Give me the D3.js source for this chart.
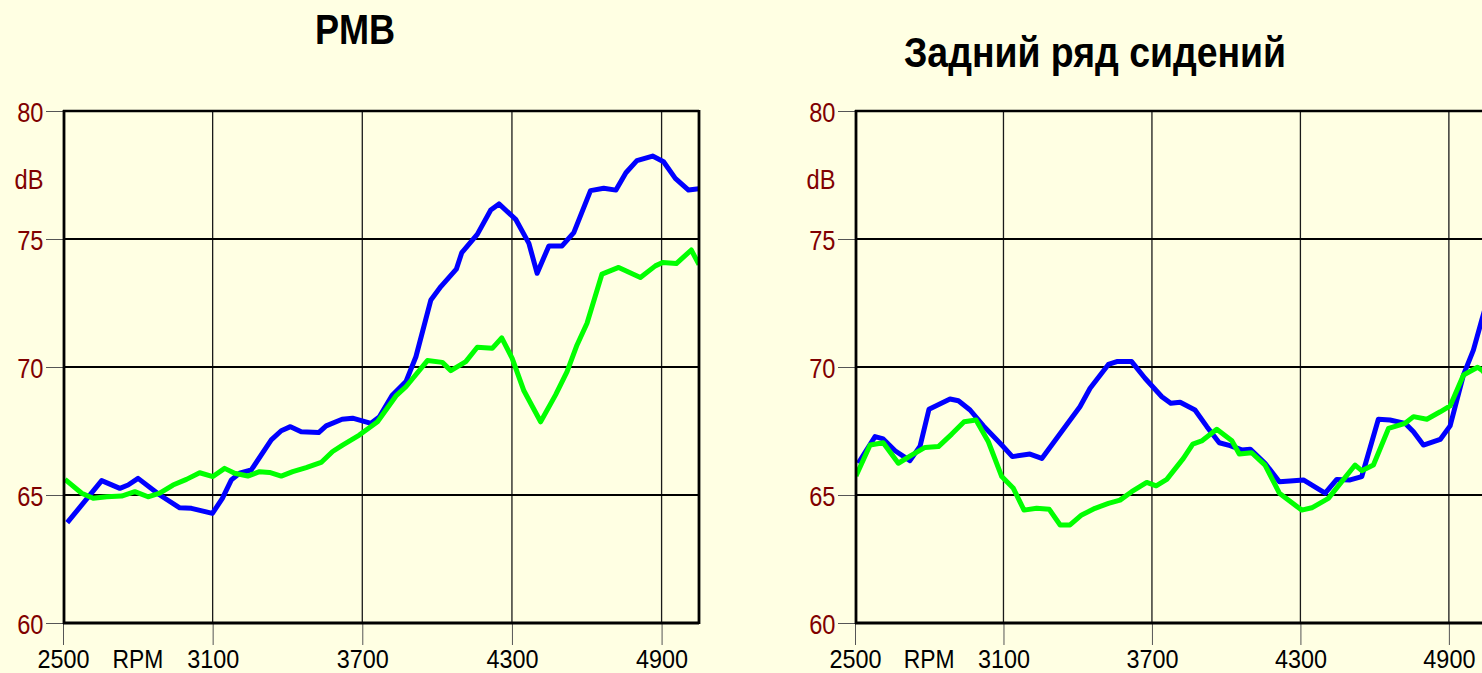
<!DOCTYPE html>
<html>
<head>
<meta charset="utf-8">
<script src="https://cdn.jsdelivr.net/npm/d3@7"></script>
<style>
  html, body { margin: 0; padding: 0; background: #FFFFE3; }
  svg { display: block; }
  text { font-family: "Liberation Sans", Arial, sans-serif; }
</style>
</head>
<body>
<svg id="chart" width="1482" height="673"></svg>
<script>
// ---------------- DATA ----------------
const titles = ["PMB", "Задний ряд сидений"];
const yTicks = [60, 65, 70, 75, 80];
const xTicks = [2500, 3100, 3700, 4300, 4900];
const xUnit = "RPM";
const yUnit = "dB";

// Panel 1: PMB
const pmbBlueRpm = [2517,2655,2728,2761,2801,2888,2968,3015,3099,3139,3175,3208,3255,3335,3375,3412,3455,3525,3555,3619,3661,3735,3768,3821,3875,3915,3975,4015,4077,4099,4161,4215,4248,4315,4368,4401,4448,4501,4548,4615,4668,4717,4757,4801,4864,4908,4955,5008,5050];
const pmbBlueDb  = [63.92,65.56,65.26,65.39,65.65,65.00,64.50,64.48,64.28,64.87,65.59,65.85,65.98,67.15,67.51,67.67,67.47,67.44,67.70,67.96,68.00,67.80,68.05,68.91,69.43,70.40,72.62,73.14,73.82,74.47,75.18,76.13,76.37,75.77,74.83,73.66,74.73,74.73,75.25,76.89,76.98,76.91,77.59,78.06,78.24,78.02,77.37,76.91,76.96];
const pmbGreenRpm = [2508,2575,2621,2675,2735,2788,2841,2888,2941,2995,3048,3101,3148,3188,3241,3288,3328,3375,3421,3475,3535,3581,3621,3688,3761,3835,3875,3961,4021,4055,4115,4161,4221,4259,4301,4348,4415,4475,4521,4561,4601,4661,4728,4815,4875,4904,4959,5019,5050];
const pmbGreenDb  = [65.61,65.07,64.87,64.93,64.96,65.13,64.93,65.07,65.39,65.61,65.87,65.72,66.04,65.85,65.74,65.91,65.88,65.74,65.91,66.07,66.27,66.70,66.95,67.34,67.86,68.87,69.23,70.25,70.18,69.86,70.21,70.77,70.73,71.14,70.34,69.07,67.86,68.91,69.82,70.86,71.71,73.63,73.89,73.50,73.95,74.08,74.04,74.57,74.00];

// Panel 2: rear seats
const rearBlueRpm = [2513,2581,2614,2662,2722,2763,2799,2884,2918,2965,3019,3093,3136,3207,3255,3362,3409,3450,3524,3558,3618,3672,3740,3776,3814,3874,3922,3972,4016,4063,4097,4157,4215,4258,4312,4400,4447,4501,4548,4615,4662,4723,4757,4797,4865,4905,4959,4999,5033,5050];
const rearBlueDb  = [66.24,67.28,67.19,66.73,66.34,66.91,68.35,68.75,68.68,68.32,67.70,66.95,66.50,66.60,66.43,67.83,68.45,69.17,70.10,70.21,70.21,69.56,68.84,68.58,68.62,68.32,67.67,67.04,66.93,66.76,66.79,66.24,65.52,65.55,65.59,65.07,65.61,65.59,65.72,67.96,67.93,67.80,67.47,66.95,67.17,67.70,69.69,70.66,71.84,72.40];
const rearGreenRpm = [2504,2561,2614,2675,2729,2783,2837,2891,2941,2989,3039,3093,3140,3183,3234,3285,3329,3369,3416,3470,3524,3571,3618,3679,3717,3760,3827,3865,3901,3962,4023,4053,4103,4157,4215,4305,4346,4413,4467,4521,4548,4595,4656,4723,4757,4811,4865,4905,4959,5016,5035,5050];
const rearGreenDb  = [65.74,66.95,67.04,66.24,66.56,66.86,66.89,67.38,67.86,67.93,67.08,65.72,65.26,64.41,64.48,64.44,63.83,63.83,64.22,64.48,64.67,64.80,65.13,65.49,65.36,65.61,66.43,66.99,67.11,67.57,67.12,66.60,66.65,66.17,65.07,64.41,64.50,64.87,65.52,66.17,65.95,66.17,67.60,67.80,68.06,67.96,68.25,68.48,69.69,69.99,69.86,69.70];

const seriesColors = ["#0000FF", "#00FF00"];

// ---------------- DRAW ----------------
const svg = d3.select("#chart");
svg.append("rect").attr("width", 1482).attr("height", 673).attr("fill", "#FFFFE3");

function zip(xs, ys) { return xs.map((x, i) => ({ x: x, y: ys[i] })); }

function panel(cfg) {
  const x = d3.scaleLinear().domain([2500, 5050]).range([cfg.x0, cfg.x1]);
  const y = d3.scaleLinear().domain([60, 80]).range([623, 111]);
  const g = svg.append("g");

  // title
  g.append("text")
    .attr("transform", `translate(${cfg.titleX},${cfg.titleY}) scale(${cfg.titleScale},1)`)
    .attr("text-anchor", "middle")
    .attr("font-size", 43).attr("font-weight", "bold").attr("fill", "#000")
    .text(cfg.title);

  const ys = 0.86;
  // y axis (ticks + labels)
  const ya = g.append("g").attr("transform", `translate(${cfg.x0},0)`)
    .call(d3.axisLeft(y).tickValues(yTicks).tickSize(17).tickPadding(2).tickFormat(d3.format("d")));
  ya.select(".domain").remove();
  ya.selectAll(".tick line").attr("stroke", "#555").attr("stroke-width", 1);
  ya.selectAll(".tick text")
    .attr("fill", "#800000").attr("font-size", 27.5)
    .attr("font-family", "'Liberation Sans', Arial, sans-serif")
    .attr("x", -19.5 / ys).attr("dy", "0.38em")
    .attr("transform", `scale(${ys},1)`);

  // dB unit label
  g.append("text")
    .attr("transform", `translate(${cfg.x0 - 19.5},${y(77.35)}) scale(${ys},1)`)
    .attr("text-anchor", "end").attr("dy", "0.36em")
    .attr("font-size", 27.5).attr("fill", "#800000")
    .text(yUnit);

  // x axis (ticks + labels)
  const xa = g.append("g").attr("transform", `translate(0,623)`)
    .call(d3.axisBottom(x).tickValues(xTicks).tickSize(22).tickPadding(5).tickFormat(d3.format("d")));
  xa.select(".domain").remove();
  xa.selectAll(".tick line").attr("stroke", "#555").attr("stroke-width", 1);
  xa.selectAll(".tick text")
    .attr("fill", "#000").attr("font-size", 26)
    .attr("font-family", "'Liberation Sans', Arial, sans-serif")
    .attr("transform", "scale(0.9,1)")
    .attr("x", 0);
  // RPM unit label
  g.append("text")
    .attr("transform", `translate(${x(2800)},623) scale(0.88,1)`)
    .attr("text-anchor", "middle").attr("y", 27).attr("dy", "0.71em")
    .attr("font-size", 26).attr("fill", "#000")
    .text(xUnit);

  // vertical grid
  g.append("g").selectAll("line").data(xTicks.slice(1)).join("line")
    .attr("x1", d => x(d)).attr("x2", d => x(d))
    .attr("y1", y(80)).attr("y2", y(60))
    .attr("stroke", "#1a1a1a").attr("stroke-width", 1.3);
  // horizontal grid
  g.append("g").selectAll("line").data([65, 70, 75]).join("line")
    .attr("x1", cfg.x0).attr("x2", cfg.x1)
    .attr("y1", d => y(d)).attr("y2", d => y(d))
    .attr("stroke", "#000").attr("stroke-width", 2);

  // clip
  const cid = "clip" + cfg.id;
  g.append("clipPath").attr("id", cid).append("rect")
    .attr("x", cfg.x0).attr("y", y(80) - 3).attr("width", cfg.x1 - cfg.x0).attr("height", y(60) - y(80) + 6);

  const line = d3.line().x(d => x(d.x)).y(d => y(d.y));
  const lg = g.append("g").attr("clip-path", `url(#${cid})`);
  cfg.series.forEach((s, i) => {
    lg.append("path").datum(s)
      .attr("d", line)
      .attr("fill", "none")
      .attr("stroke", seriesColors[i])
      .attr("stroke-width", 5)
      .attr("stroke-linejoin", "round")
      .attr("stroke-linecap", "butt");
  });

  // borders
  g.append("line").attr("x1", cfg.x0).attr("x2", cfg.x1).attr("y1", y(80)).attr("y2", y(80))
    .attr("stroke", "#000").attr("stroke-width", 2.5);
  g.append("line").attr("x1", cfg.x0).attr("x2", cfg.x1).attr("y1", y(60)).attr("y2", y(60))
    .attr("stroke", "#000").attr("stroke-width", 2.8);
  g.append("line").attr("x1", cfg.x0 + 1).attr("x2", cfg.x0 + 1).attr("y1", y(80) - 1).attr("y2", y(60) + 1)
    .attr("stroke", "#000").attr("stroke-width", 2.8);
  g.append("line").attr("x1", cfg.x1).attr("x2", cfg.x1).attr("y1", y(80) - 1).attr("y2", y(60) + 1)
    .attr("stroke", "#000").attr("stroke-width", 2.8);
}

panel({
  id: 1, x0: 63, x1: 699, title: titles[0], titleX: 355, titleY: 44, titleScale: 0.84,
  series: [zip(pmbBlueRpm, pmbBlueDb), zip(pmbGreenRpm, pmbGreenDb)]
});
panel({
  id: 2, x0: 855, x1: 1486, title: titles[1], titleX: 1095, titleY: 67, titleScale: 0.87,
  series: [zip(rearBlueRpm, rearBlueDb), zip(rearGreenRpm, rearGreenDb)]
});
</script>
</body>
</html>
